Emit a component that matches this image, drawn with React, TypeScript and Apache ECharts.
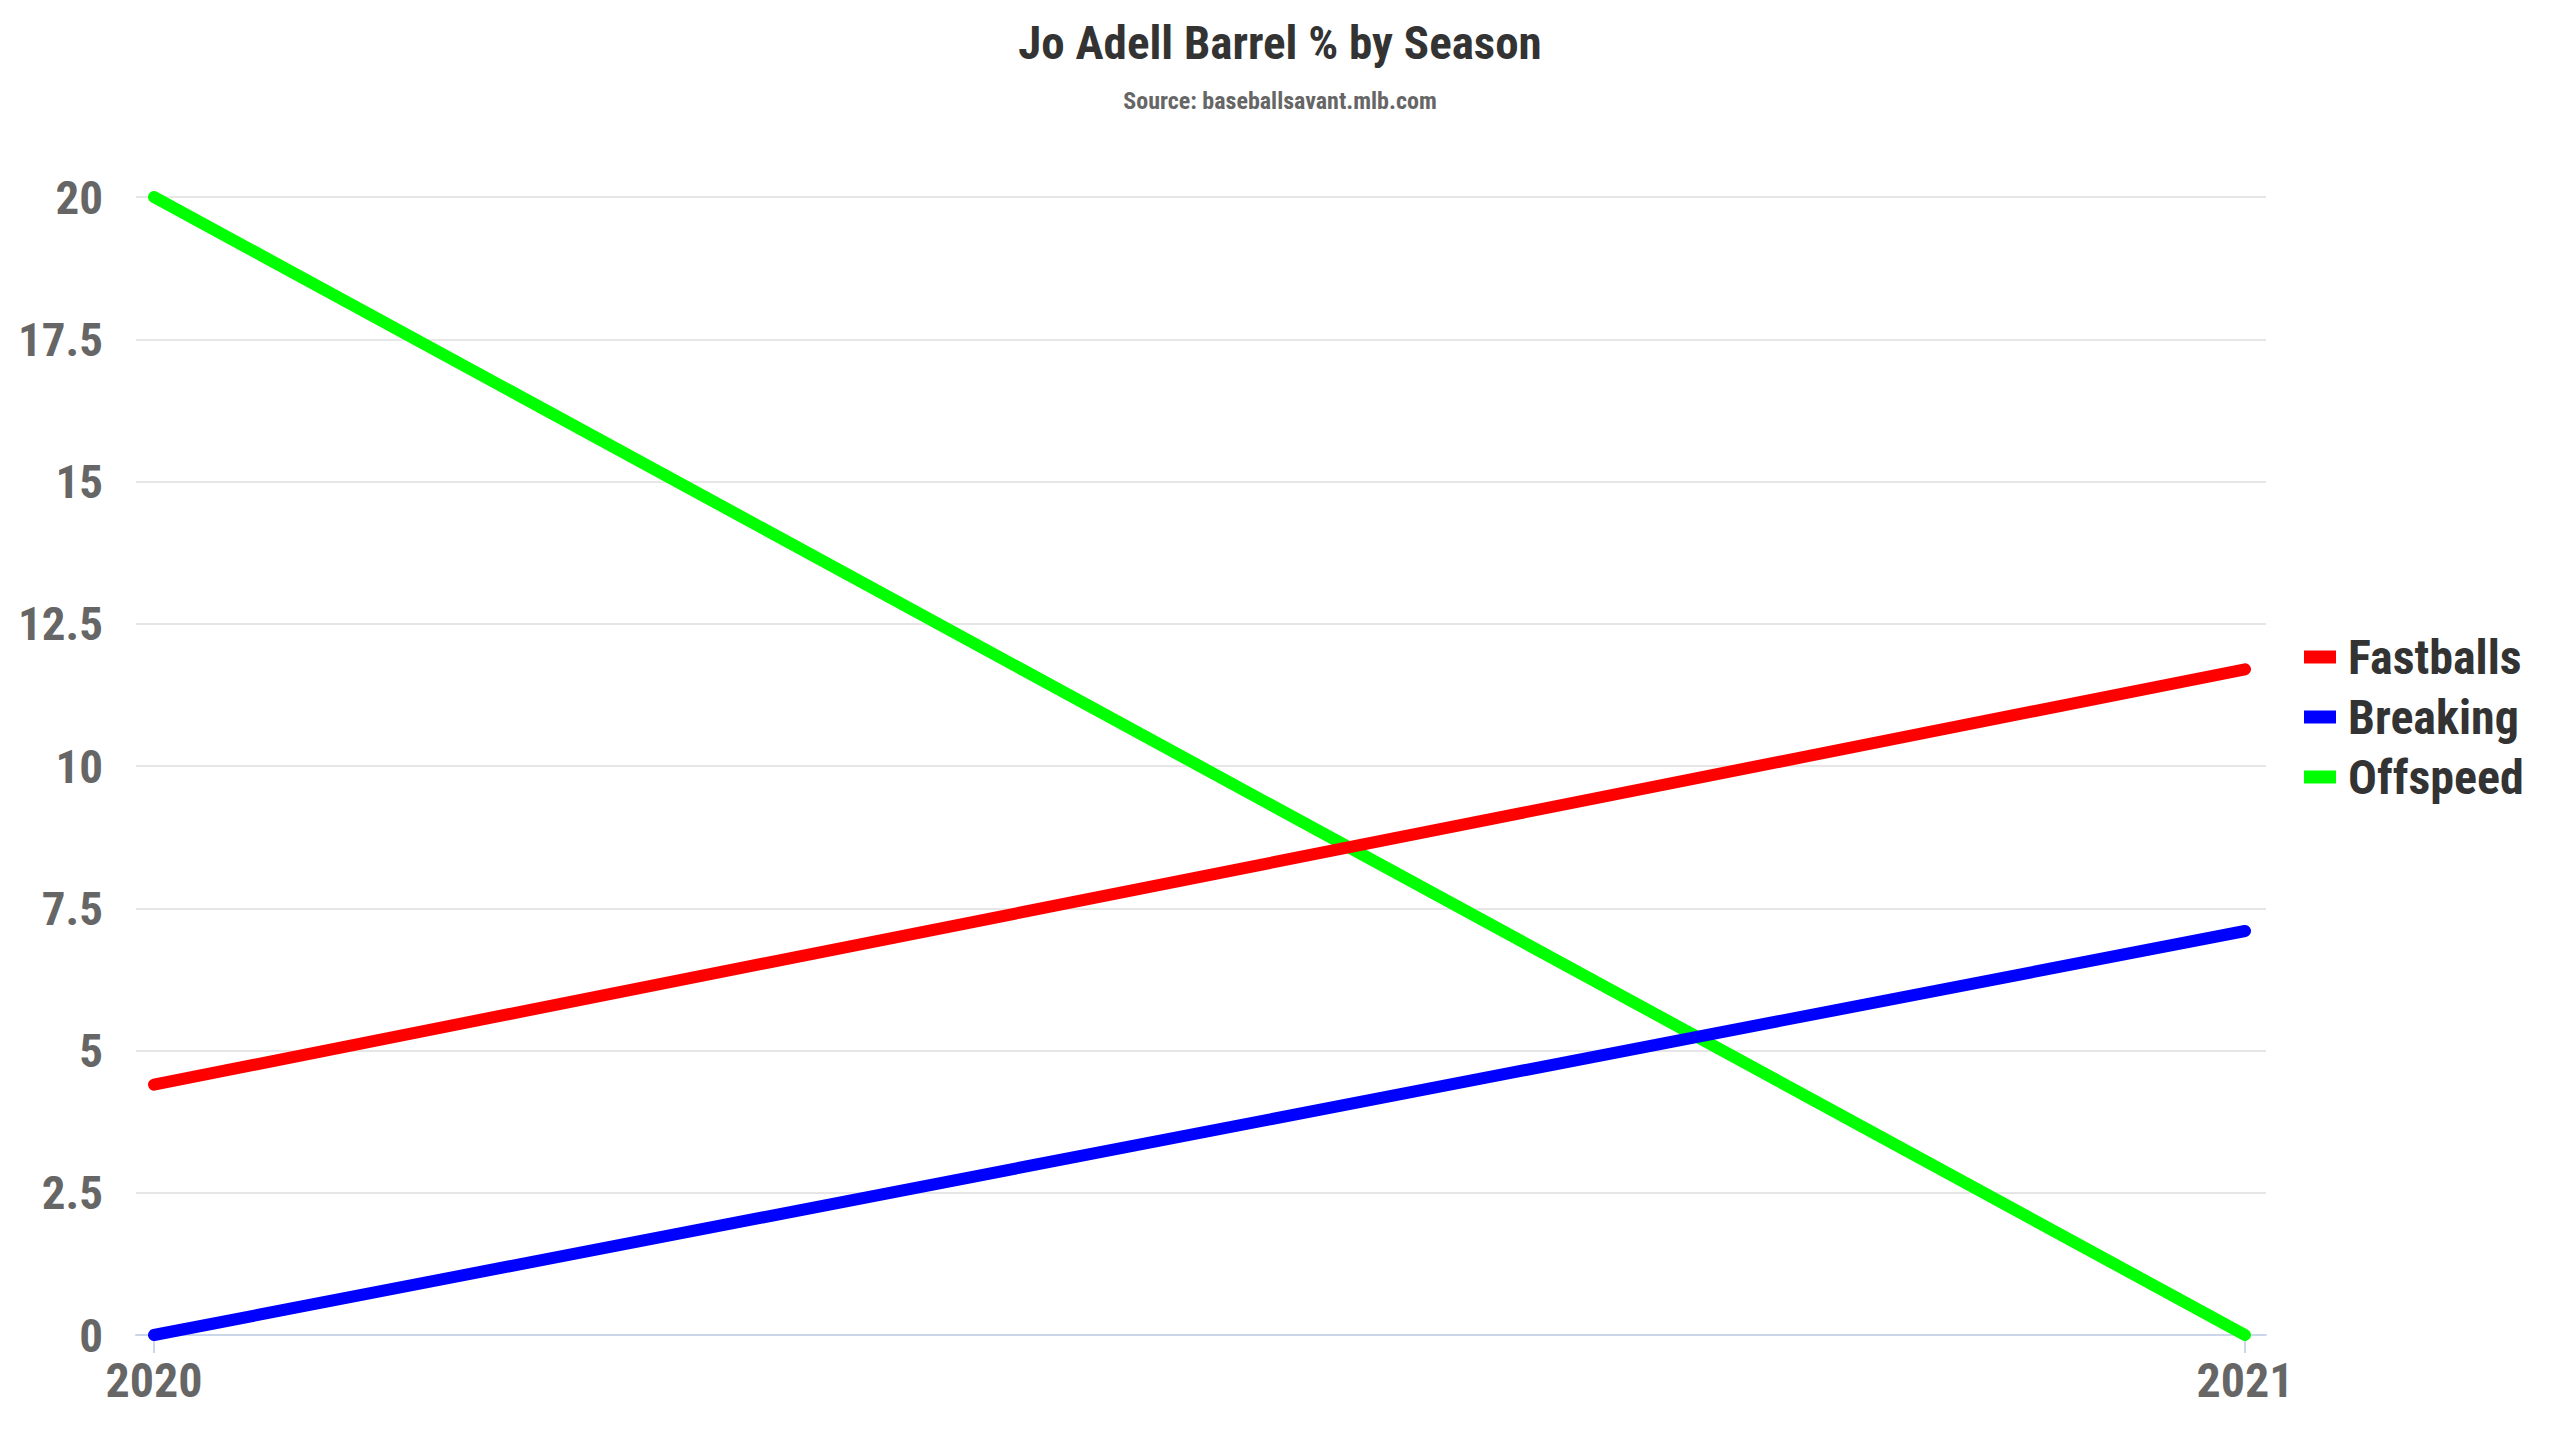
import React, { useEffect, useRef } from "react";
import * as echarts from "echarts";

const seasons = [2020, 2021];
const fastballs = [4.4, 11.7];
const breaking = [0, 7.1];
const offspeed = [20, 0];
const seriesNames = ["Fastballs", "Breaking", "Offspeed"];
const seriesColors = ["#ff0000", "#0000ff", "#00ff00"];
const yTicks = [0, 2.5, 5, 7.5, 10, 12.5, 15, 17.5, 20];

const FONT = "'Roboto Condensed', 'Liberation Sans Narrow', 'DejaVu Sans Condensed', Roboto, sans-serif";

export default function App() {
  const ref = useRef<HTMLDivElement>(null);
  useEffect(() => {
    document.body.style.margin = "0";
    if (!ref.current) return;
    const chart = echarts.init(ref.current, undefined, { renderer: "svg" });
    const values = [fastballs, breaking, offspeed];
    chart.setOption({
      animation: false,
      backgroundColor: "#ffffff",
      title: [
        {
          text: "Jo Adell Barrel % by Season",
          left: "center",
          top: 10,
          textStyle: { fontFamily: FONT, fontSize: 47, fontWeight: "bold", color: "#333333", lineHeight: 54 },
        },
        {
          text: "Source: baseballsavant.mlb.com",
          left: "center",
          top: 82,
          textStyle: { fontFamily: FONT, fontSize: 24, fontWeight: "bold", color: "#666666", lineHeight: 28 },
        },
      ],
      legend: {
        orient: "vertical",
        left: 2299,
        top: 628,
        icon: "rect",
        itemWidth: 32,
        itemHeight: 13,
        itemGap: 12,
        data: seriesNames,
        textStyle: { fontFamily: FONT, fontSize: 48, fontWeight: "bold", color: "#333333", lineHeight: 48, padding: [0, 0, 0, 7] },
      },
      grid: { left: 136, right: 294, top: 197, bottom: 105, containLabel: false },
      xAxis: {
        type: "value",
        min: 2020 - 18 / 2091,
        max: 2021 + 21 / 2091,
        axisLine: { show: true, lineStyle: { color: "#ccd6eb", width: 2 } },
        axisTick: { show: true, customValues: seasons, length: 18, lineStyle: { color: "#ccd6eb", width: 2 } },
        axisLabel: {
          customValues: seasons,
          formatter: (v: number) => String(Math.round(v)),
          fontFamily: FONT,
          fontSize: 48,
          fontWeight: "bold",
          color: "#666666",
          margin: 21,
        },
        splitLine: { show: false },
      },
      yAxis: {
        type: "value",
        min: yTicks[0],
        max: yTicks[yTicks.length - 1],
        interval: 2.5,
        axisLine: { show: false },
        axisTick: { show: false },
        axisLabel: { fontFamily: FONT, fontSize: 47, fontWeight: "bold", color: "#666666", margin: 33 },
        splitLine: { show: true, lineStyle: { color: "#e6e6e6", width: 2 } },
      },
      series: seriesNames.map((name, i) => ({
        name,
        type: "line",
        data: seasons.map((s, j) => [s, values[i][j]]),
        showSymbol: false,
        symbol: "none",
        color: seriesColors[i],
        lineStyle: { color: seriesColors[i], width: 12, cap: "round", join: "round" },
        z: 3 + (2 - i),
      })),
    });
    return () => chart.dispose();
  }, []);
  return <div ref={ref} style={{ width: 2560, height: 1440 }} />;
}
